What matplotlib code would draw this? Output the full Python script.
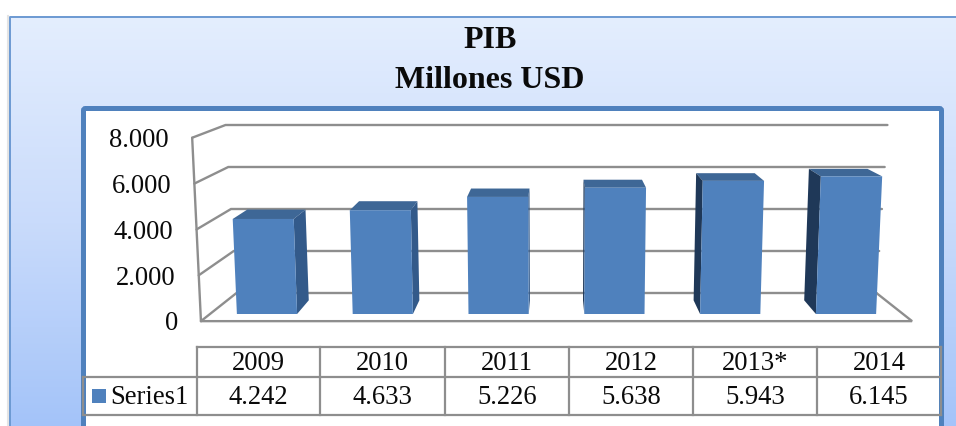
import numpy as np
import matplotlib
matplotlib.use("Agg")
import matplotlib.pyplot as plt
from matplotlib.colors import LinearSegmentedColormap
from matplotlib.patches import FancyBboxPatch, Rectangle
from matplotlib.transforms import Affine2D
from matplotlib.path import Path
from matplotlib.transforms import Transform

# ---- data ----
title_lines = ["PIB", "Millones USD"]
categories = ["2009", "2010", "2011", "2012", "2013*", "2014"]
series_name = "Series1"
values = [4242, 4633, 5226, 5638, 5943, 6145]
value_ticks = [0, 2000, 4000, 6000, 8000]

# ---- geometry ----
W, H = 956, 426
X0, DX = 267.0, 115.8          # pixel of first category, pixels per category
Y0, DY = 314.0, 0.0224         # pixel of value 0, pixels per unit (on bar front plane)
IC = (556.0 - X0) / DX         # vanishing point in data units
VC = (Y0 - 10.0) / DY
VC_BACK = (Y0 + 22.0) / DY     # vertical vanishing point used by the back wall
TILT = 3.09e-6
TILT_BACK = 4.3e-6
S_WALL_FRONT = 1.0235
S_WALL_BACK_X = 0.921
S_WALL_BACK_Y = 0.9375
S_BAR_BACK = 0.955
BAR_W = 0.52

BLUE = "#4F81BD"
TOP = "#3E6796"
RIGHT = "#335A8A"
LEFT = "#1F3858"
GRID = "#8E8E8E"
TEXT = "#0A0A0A"
SERIF = "Liberation Serif"


def project(i, v, s=1.0):
    i = np.asarray(i, float)
    v = np.asarray(v, float)
    ix = IC + (i - IC) * (1 + TILT * v)
    return IC + (ix - IC) * s, VC + (v - VC) * s


def project_back(i, v):
    i = np.asarray(i, float)
    v = np.asarray(v, float)
    ix = IC + (i - IC) * (1 + TILT_BACK * v)
    return IC + (ix - IC) * S_WALL_BACK_X, VC_BACK + (v - VC_BACK) * S_WALL_BACK_Y


class FrontPlane(Transform):
    input_dims = output_dims = 2

    def transform_non_affine(self, xy):
        xy = np.asarray(xy, float)
        px, pv = project(xy[:, 0], xy[:, 1])
        return np.column_stack([px, pv])

    def transform_path_non_affine(self, path):
        return Path(self.transform_non_affine(path.vertices), path.codes)


fig = plt.figure(figsize=(W / 100, H / 100), dpi=100, facecolor="white")
pix = Affine2D().scale(1, -1).translate(0, H)   # image pixels -> display

# ---- background panel ----
bg = fig.add_axes([0, 0, 1, 1], zorder=0)
bg.set_xlim(0, W)
bg.set_ylim(H, 0)
bg.axis("off")
cmap = LinearSegmentedColormap.from_list("panel", ["#E4EEFE", "#C9DBFB", "#A3C3F9"])
grad = np.linspace(0, 1, 256).reshape(-1, 1)
im = bg.imshow(grad, cmap=cmap, extent=(10, W + 5, H + 5, 16), aspect="auto", zorder=1)
bg.set_xlim(0, W)
bg.set_ylim(H, 0)
bg.plot([8.5, 8.5], [16, H], color="#E4E4E4", lw=1.5, zorder=0.9)
bg.plot([10.5, 10.5, W], [H, 16.5, 16.5], color="#6C99D2", lw=1.4, zorder=2)
bg.add_patch(FancyBboxPatch((83.5, 108.5), 858, H, boxstyle="round,pad=0,rounding_size=2",
                            fc="white", ec=BLUE, lw=3.6, zorder=3))
for k, line in enumerate(title_lines):
    bg.text(490, [40, 80][k], line, family=SERIF, weight="bold", fontsize=23,
            ha="center", va="center", color=TEXT, zorder=5)

# ---- chart axes: data coordinates ----
ax = fig.add_axes([0, 0, 1, 1], zorder=1)
ax.patch.set_visible(False)
ax.axis("off")
ax.set_xlim((0 - X0) / DX, (W - X0) / DX)
ax.set_ylim((Y0 - H) / DY, (Y0 - 0) / DY)

L, R = -0.5, len(categories) - 0.5
line_kw = dict(color=GRID, lw=1.7, solid_capstyle="round", solid_joinstyle="miter", zorder=2)

for t in value_ticks:
    fx, fy = project(L, t, S_WALL_FRONT)
    bx, by = project_back([L, R], [t, t])
    ax.plot([fx, bx[0], bx[1]], [fy, by[0], by[1]], **line_kw)
    ax.annotate(f"{t:,}".replace(",", "."), (fx, fy), xytext=(-16.6, -2.0),
                textcoords="offset points", family=SERIF, fontsize=19.2, color=TEXT,
                ha="right", va="center", zorder=5)

# wall front edge and floor
x, y = project([L, L], [value_ticks[-1], 0], S_WALL_FRONT)
ax.plot(x, y, **line_kw)
fx, fy = project([L, R], [0, 0], S_WALL_FRONT)
bx, by = project_back(R, 0)
ax.plot([fx[0], fx[1], bx], [fy[0], fy[1], by], **line_kw)

# ---- bars ----
pos = np.arange(len(categories))
for p, v in zip(pos, values):
    a, b = p - BAR_W / 2, p + BAR_W / 2
    s1, s2 = 1.0, S_BAR_BACK
    # top
    x, y = project([a, b, b, a], [v] * 4, [s1, s1, s2, s2])
    ax.fill(x, y, color=TOP, lw=0, zorder=3)
    # sides
    if b < IC:
        x, y = project([b, b, b, b], [0, v, v, 0], [s1, s1, s2, s2])
        ax.fill(x, y, color=RIGHT, lw=0, zorder=3)
    if a > IC:
        x, y = project([a, a, a, a], [0, v, v, 0], [s1, s1, s2, s2])
        ax.fill(x, y, color=LEFT, lw=0, zorder=3)
ax.bar(pos, values, width=BAR_W, color=BLUE, lw=0, zorder=4,
       transform=FrontPlane() + ax.transData)

# ---- data table ----
col_x = [197, 320, 445, 569, 693, 817, 941]
row_y = [347, 377, 415]
legend_x = 83
tb = dict(color=GRID, lw=1.6, transform=pix, zorder=6, solid_capstyle="projecting")
ax.plot([col_x[0], col_x[-1]], [row_y[0], row_y[0]], **tb)
ax.plot([legend_x, col_x[-1]], [row_y[1], row_y[1]], **tb)
ax.plot([legend_x, col_x[-1]], [row_y[2], row_y[2]], **tb)
ax.plot([legend_x, legend_x], [row_y[1], row_y[2]], **tb)
for cx in col_x:
    ax.plot([cx, cx], [row_y[0], row_y[2]], **tb)
for k, (c, v) in enumerate(zip(categories, values)):
    cx = (col_x[k] + col_x[k + 1]) / 2
    ax.text(cx, 364, c, transform=pix, family=SERIF, fontsize=19.2, color=TEXT,
            ha="center", va="center", zorder=7)
    ax.text(cx, 398, f"{v:,}".replace(",", "."), transform=pix, family=SERIF, fontsize=19.2,
            color=TEXT, ha="center", va="center", zorder=7)
ax.add_patch(Rectangle((92, 389), 14, 14, transform=pix, fc=BLUE, ec="none", zorder=7))
ax.text(110, 398, series_name, transform=pix, family=SERIF, fontsize=19.2, color=TEXT,
        ha="left", va="center", zorder=7)

fig.savefig("out.png", dpi=100, facecolor="white")
